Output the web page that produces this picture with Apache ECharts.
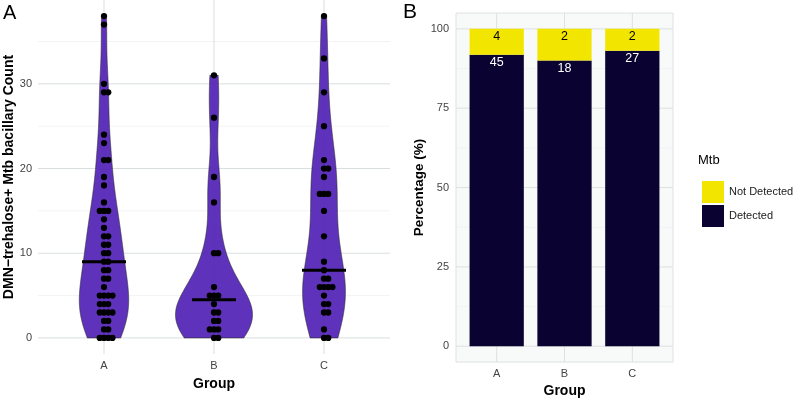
<!DOCTYPE html>
<html><head><meta charset="utf-8">
<script src="https://cdn.jsdelivr.net/npm/echarts@6/dist/echarts.min.js"></script>
<style>html,body{margin:0;padding:0;background:#fff}#c{width:794px;height:403px}</style>
</head><body><div id="c"></div>
<script>
// ---------- data ----------
const groupNames = ['A', 'B', 'C'];
const countA = [0,0,0,0,1,1,2,2,3,3,3,3,4,4,4,5,5,5,5,6,7,7,8,8,9,9,10,10,11,11,12,12,13,14,15,15,15,16,18,19,21,21,23,24,29,29,30,37,38];
const countB = [0,0,1,1,1,2,2,3,3,4,5,5,5,6,10,10,16,19,26,31];
const countC = [0,0,1,3,3,4,4,5,6,6,6,6,7,7,8,9,12,15,17,17,17,19,20,20,21,25,29,33,38];
const countTicks = [0, 10, 20, 30];
const countMinorTicks = [5, 15, 25, 35];
const detectedCounts = [45, 18, 27];
const notDetectedCounts = [4, 2, 2];
const pctTicks = [0, 25, 50, 75, 100];
const pctMinorTicks = [12.5, 37.5, 62.5, 87.5];
const mtbLevels = ['Not Detected', 'Detected'];

// ---------- stats (as ggplot computes them) ----------
const groupsData = [countA, countB, countC];
function q7(s, p) { const h = (s.length - 1) * p, lo = Math.floor(h), hi = Math.min(lo + 1, s.length - 1); return s[lo] + (h - lo) * (s[hi] - s[lo]); }
function bwNrd0(x) {
  const n = x.length, m = x.reduce((a, b) => a + b, 0) / n;
  const sd = Math.sqrt(x.reduce((a, b) => a + (b - m) * (b - m), 0) / (n - 1));
  const s = x.slice().sort((a, b) => a - b);
  const iqr = q7(s, 0.75) - q7(s, 0.25);
  let lo = Math.min(sd, iqr / 1.34);
  if (!(lo > 0)) lo = sd || Math.abs(x[0]) || 1;
  return 0.9 * lo * Math.pow(n, -0.2);
}
function kde(x) {
  const bw = bwNrd0(x), lo = Math.min(...x), hi = Math.max(...x), N = 512, out = { ys: [], d: [] };
  for (let i = 0; i < N; i++) {
    const y = lo + (hi - lo) * i / (N - 1);
    let s = 0; for (const v of x) { const z = (y - v) / bw; s += Math.exp(-0.5 * z * z); }
    out.ys.push(y); out.d.push(s / (x.length * bw * Math.sqrt(2 * Math.PI)));
  }
  return out;
}
const dens = groupsData.map(kde);
const gmax = Math.max(...dens.map(o => Math.max(...o.d)));
const VIOLIN_W = 0.7;
const violins = dens.map(o => ({ ys: o.ys, w: o.d.map(d => d / gmax * VIOLIN_W / 2) }));
function median(x) { const s = x.slice().sort((a, b) => a - b); return q7(s, 0.5); }
const medians = groupsData.map(median);
// dot stacking (centerwhole)
const dotData = [];
groupsData.forEach((arr, g) => {
  const cnt = {};
  arr.forEach(v => cnt[v] = (cnt[v] || 0) + 1);
  Object.keys(cnt).forEach(k => {
    const n = cnt[k];
    for (let a = 1; a <= n; a++) dotData.push([g, +k, a - 1 - Math.floor((n - 1) / 2)]);
  });
});
const allCounts = [].concat(...groupsData);
const cMin = Math.min(...allCounts), cMax = Math.max(...allCounts), cPad = (cMax - cMin) * 0.05;
const totals = detectedCounts.map((d, i) => d + notDetectedCounts[i]);
// stacked segments: [group, start%, end%, count]
const segDetected = detectedCounts.map((d, i) => [i, 0, d / totals[i] * 100, d]);
const segNot = notDetectedCounts.map((d, i) => [i, detectedCounts[i] / totals[i] * 100, 100, d]);

const gridA = [];
countTicks.forEach(v => gridA.push([0, v, 1]));
countMinorTicks.forEach(v => gridA.push([0, v, 0]));
groupNames.forEach((n, i) => gridA.push([1, i, 1]));
const gridB = [];
pctTicks.forEach(v => gridB.push([0, v, 1]));
pctMinorTicks.forEach(v => gridB.push([0, v, 0]));
groupNames.forEach((n, i) => gridB.push([1, i, 1]));

// ---------- chart ----------
const FONT = 'Liberation Sans, Arial, Helvetica, sans-serif';
function gridRender(majorCol, minorCol) {
  return function (params, api) {
    const cs = params.coordSys, o = api.value(0), v = api.value(1), major = api.value(2);
    const st = { stroke: major ? majorCol : minorCol, lineWidth: major ? 1 : 0.6 };
    if (o === 0) { const y = api.coord([0, v])[1]; return { type: 'line', shape: { x1: cs.x, y1: y, x2: cs.x + cs.width, y2: y }, style: st }; }
    const x = api.coord([v, 0])[0];
    return { type: 'line', shape: { x1: x, y1: cs.y, x2: x, y2: cs.y + cs.height }, style: st };
  };
}
function barRender(fill, textColor) {
  return function (params, api) {
    const g = api.value(0), lo = api.value(1), hi = api.value(2), n = api.value(3);
    const b = api.coord([g, lo]), t = api.coord([g, hi]);
    const w = api.size([0.8, 0])[0];
    return { type: 'group', children: [
      { type: 'rect', shape: { x: b[0] - w / 2, y: t[1], width: w, height: b[1] - t[1] }, style: { fill: fill } },
      { type: 'text', x: b[0], y: t[1] + 1.5, style: { text: String(n), fill: textColor, fontSize: 12.5, fontFamily: FONT, align: 'center', verticalAlign: 'top' } }
    ] };
  };
}
const chart = echarts.init(document.getElementById('c'));
const axisLabelStyle = { color: '#444', fontSize: 11, fontFamily: FONT };
const nameStyle = { color: '#000', fontSize: 13.5, fontWeight: 'bold', fontFamily: FONT };
const catFormatter = v => (Math.abs(v - Math.round(v)) < 1e-6 && Math.round(v) >= 0 && Math.round(v) < groupNames.length) ? groupNames[Math.round(v)] : '';
const COL_DET = '#0a0230', COL_NOT = '#f2e600';
chart.setOption({
  animation: false,
  textStyle: { fontFamily: FONT },
  grid: [
    { left: 38, top: 0, width: 352, height: 354 },
    { left: 456, top: 13, width: 217, height: 353, show: true, backgroundColor: '#f8f9f9', borderColor: '#dfe3e3', borderWidth: 1 }
  ],
  xAxis: [
    { gridIndex: 0, type: 'value', min: -0.6, max: 2.6, minInterval: 1, maxInterval: 1,
      axisLine: { show: false }, axisTick: { show: false }, splitLine: { show: false },
      axisLabel: Object.assign({ margin: 6, formatter: catFormatter }, axisLabelStyle),
      name: 'Group', nameLocation: 'middle', nameGap: 23, nameTextStyle: Object.assign({}, nameStyle, { fontSize: 14 }) },
    { gridIndex: 1, type: 'value', min: -0.6, max: 2.6, minInterval: 1, maxInterval: 1,
      axisLine: { show: false }, axisTick: { show: false }, splitLine: { show: false },
      axisLabel: Object.assign({ margin: 6, formatter: catFormatter }, axisLabelStyle),
      name: 'Group', nameLocation: 'middle', nameGap: 20, nameTextStyle: Object.assign({}, nameStyle, { fontSize: 14 }) }
  ],
  yAxis: [
    { gridIndex: 0, type: 'value', min: cMin - cPad, max: cMax + cPad, minInterval: 10, maxInterval: 10,
      axisLine: { show: false }, axisTick: { show: false }, splitLine: { show: false },
      axisLabel: Object.assign({ margin: 6, showMinLabel: false, showMaxLabel: false, formatter: v => countTicks.some(t => Math.abs(t - v) < 1e-6) ? String(Math.round(v)) : '' }, axisLabelStyle),
      name: 'DMN\u2212trehalose+ Mtb bacillary Count', nameLocation: 'middle', nameGap: 22, nameTextStyle: Object.assign({}, nameStyle, { fontSize: 14 }) },
    { gridIndex: 1, type: 'value', min: -5, max: 105, minInterval: 25, maxInterval: 25,
      axisLine: { show: false }, axisTick: { show: false }, splitLine: { show: false },
      axisLabel: Object.assign({ margin: 7, showMinLabel: false, showMaxLabel: false, formatter: v => pctTicks.some(t => Math.abs(t - v) < 1e-6) ? String(Math.round(v)) : '' }, axisLabelStyle),
      name: 'Percentage (%)', nameLocation: 'middle', nameGap: 29, nameTextStyle: nameStyle }
  ],
  legend: {
    left: 697, top: 176, orient: 'vertical', icon: 'rect', itemWidth: 22, itemHeight: 22, itemGap: 2,
    data: mtbLevels, textStyle: { fontSize: 11, color: '#1a1a1a', fontFamily: FONT }
  },
  graphic: [
    { type: 'text', left: 3, top: 3, style: { text: 'A', fontSize: 20, fill: '#000', fontFamily: FONT } },
    { type: 'text', left: 403, top: 2, style: { text: 'B', fontSize: 21, fill: '#000', fontFamily: FONT } },
    { type: 'text', left: 698, top: 154, style: { text: 'Mtb', fontSize: 13, fill: '#000', fontFamily: FONT } }
  ],
  series: [
    { type: 'custom', name: 'gridA', xAxisIndex: 0, yAxisIndex: 0, z: 1, silent: true, data: gridA, renderItem: gridRender('#d9dfdf', '#eaeded') },
    { type: 'custom', name: 'violin', xAxisIndex: 0, yAxisIndex: 0, z: 2, silent: true,
      data: groupNames.map((n, i) => [i, medians[i]]),
      renderItem(params, api) {
        const g = api.value(0), v = violins[g], pts = [];
        for (let i = 0; i < v.ys.length; i++) pts.push(api.coord([g + v.w[i], v.ys[i]]));
        for (let i = v.ys.length - 1; i >= 0; i--) pts.push(api.coord([g - v.w[i], v.ys[i]]));
        return { type: 'polygon', shape: { points: pts }, style: { fill: 'rgba(88,42,184,0.96)', stroke: '#2a2a2a', lineWidth: 0.6 } };
      } },
    { type: 'custom', name: 'dots', xAxisIndex: 0, yAxisIndex: 0, z: 3, silent: true, data: dotData,
      renderItem(params, api) {
        const c = api.coord([api.value(0), api.value(1)]);
        const unit = api.size([0, 1])[1];
        return { type: 'circle', shape: { cx: c[0] + api.value(2) * unit * 0.5, cy: c[1], r: unit * 0.37 }, style: { fill: '#000' } };
      } },
    { type: 'custom', name: 'median', xAxisIndex: 0, yAxisIndex: 0, z: 4, silent: true,
      data: groupNames.map((n, i) => [i, medians[i]]),
      renderItem(params, api) {
        const g = api.value(0), m = api.value(1);
        const a = api.coord([g - 0.2, m]), b = api.coord([g + 0.2, m]);
        return { type: 'line', shape: { x1: a[0], y1: a[1], x2: b[0], y2: b[1] }, style: { stroke: '#000', lineWidth: 3 } };
      } },
    { type: 'custom', name: 'gridB', xAxisIndex: 1, yAxisIndex: 1, z: 1, silent: true, data: gridB, renderItem: gridRender('#dce1e1', '#eceff0') },
    { type: 'custom', name: 'Detected', xAxisIndex: 1, yAxisIndex: 1, z: 2, silent: true,
      itemStyle: { color: COL_DET }, encode: { x: 0, y: [1, 2] }, data: segDetected, renderItem: barRender(COL_DET, '#fff') },
    { type: 'custom', name: 'Not Detected', xAxisIndex: 1, yAxisIndex: 1, z: 2, silent: true,
      itemStyle: { color: COL_NOT }, encode: { x: 0, y: [1, 2] }, data: segNot, renderItem: barRender(COL_NOT, '#000') }
  ]
});
</script>
</body></html>
